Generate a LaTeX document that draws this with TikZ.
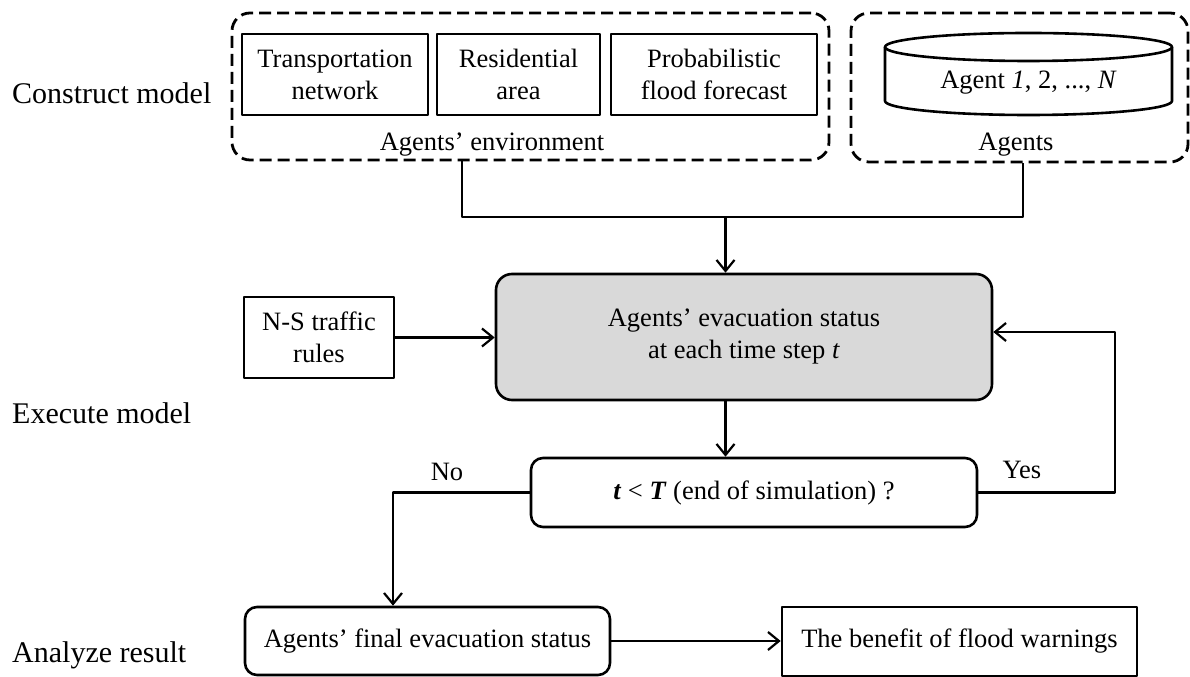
\documentclass[tikz,border=0pt]{standalone}
\usepackage{fontspec}
\setmainfont{Liberation Serif}
\usetikzlibrary{arrows.meta}
\definecolor{statusgray}{RGB}{217,217,217}
\newcommand{\flowfont}{\fontsize{26.5bp}{32bp}\selectfont}
\newcommand{\stagefont}{\fontsize{30bp}{36bp}\selectfont}
\tikzset{
  box/.style={draw, line width=2.6bp, inner sep=0pt, align=center, font=\flowfont},
  roundbox/.style={box, rounded corners=12bp},
  groupbox/.style={draw, dash pattern=on 12bp off 6bp, line width=2.8bp, rounded corners=18bp, inner sep=0pt},
  caption/.style={inner sep=0pt, font=\flowfont},
  stage/.style={anchor=west, inner sep=0pt, font=\stagefont},
  flow/.style={-{Straight Barb[length=11bp,width=18bp]}, line width=2.2bp},
  link/.style={line width=2.2bp},
}
\begin{document}
\begin{tikzpicture}[line join=bevel]
  \useasboundingbox (0bp,0bp) rectangle (1190bp,677bp);
%%
  % Stages
  \node[stage] (construct) at (12bp,584bp) {Construct model};
  \node[stage] (execute) at (12bp,264bp) {Execute model};
  \node[stage] (analyze) at (12bp,22bp) {Analyze result};
  % Node: environment
  \node[groupbox, minimum width=597bp, minimum height=147bp] (environment) at (530.5bp,590.5bp) {};
  \node[box, minimum width=186bp, minimum height=81bp] (transport) at (335bp,602.5bp) {Transportation\\network};
  \node[box, minimum width=163bp, minimum height=81bp] (residential) at (518.5bp,602.5bp) {Residential\\area};
  \node[box, minimum width=206bp, minimum height=81bp] (forecast) at (714bp,602.5bp) {Probabilistic\\flood forecast};
  \node[caption] (envlabel) at (492bp,532bp) {Agents' environment};
  % Node: agents
  \node[groupbox, minimum width=337bp, minimum height=149bp] (agents) at (1019.5bp,589.5bp) {};
  \draw[line width=2.6bp] (885bp,630bp) -- (885bp,576bp) arc[start angle=180, end angle=360, x radius=143.5bp, y radius=14bp] -- (1172bp,630bp);
  \draw[line width=2.6bp] (1028.5bp,630bp) ellipse [x radius=143.5bp, y radius=14bp];
  \node[caption] (agentlist) at (1028.5bp,594bp) {Agent \textit{1}, 2, ..., \textit{N}};
  \node[caption] (agentslabel) at (1016bp,532bp) {Agents};
  % Node: status
  \node[roundbox, fill=statusgray, rounded corners=16bp, minimum width=496bp, minimum height=126bp] (status) at (744bp,340bp) {Agents' evacuation status\\at each time step \textit{t}};
  \node[box, minimum width=150bp, minimum height=81bp] (nsrules) at (319bp,339.5bp) {N-S traffic\\rules};
  % Node: test
  \node[roundbox, minimum width=446bp, minimum height=69bp] (test) at (754bp,184.5bp) {\textbf{\textit{t}} < \textbf{\textit{T}} (end of simulation) ?};
  % Node: final
  \node[roundbox, minimum width=365bp, minimum height=68bp] (final) at (427.5bp,36bp) {Agents' final evacuation status};
  \node[box, minimum width=355bp, minimum height=69bp] (benefit) at (959.5bp,35.5bp) {The benefit of flood warnings};
  \coordinate (merge) at (725.5bp,460bp);
  \coordinate (yesturn) at (1115bp,345bp);
  % Edge: environment -> status
  \draw[link] ([xshift=-68.5bp]environment.south) |- (merge);
  \draw[link] ([xshift=3.5bp]agents.south) |- (merge);
  \draw[flow] (merge) -- (merge |- status.north);
  % Edge: nsrules -> status
  \draw[flow] (nsrules.east) -- (nsrules.east -| status.west);
  % Edge: status -> test
  \draw[flow] (status.south -| merge) -- (test.north -| merge);
  % Edge: test -> status
  \draw[flow] (test.east) -| (yesturn) -- (yesturn -| status.east);
  \node[caption] (yes) at (1022bp,207bp) {Yes};
  % Edge: test -> final
  \draw[flow] (test.west) -| ([xshift=-34.5bp]final.north);
  \node[caption] (no) at (447bp,205bp) {No};
  % Edge: final -> benefit
  \draw[flow] (final.east) -- (final.east -| benefit.west);
%
\end{tikzpicture}
\end{document}
